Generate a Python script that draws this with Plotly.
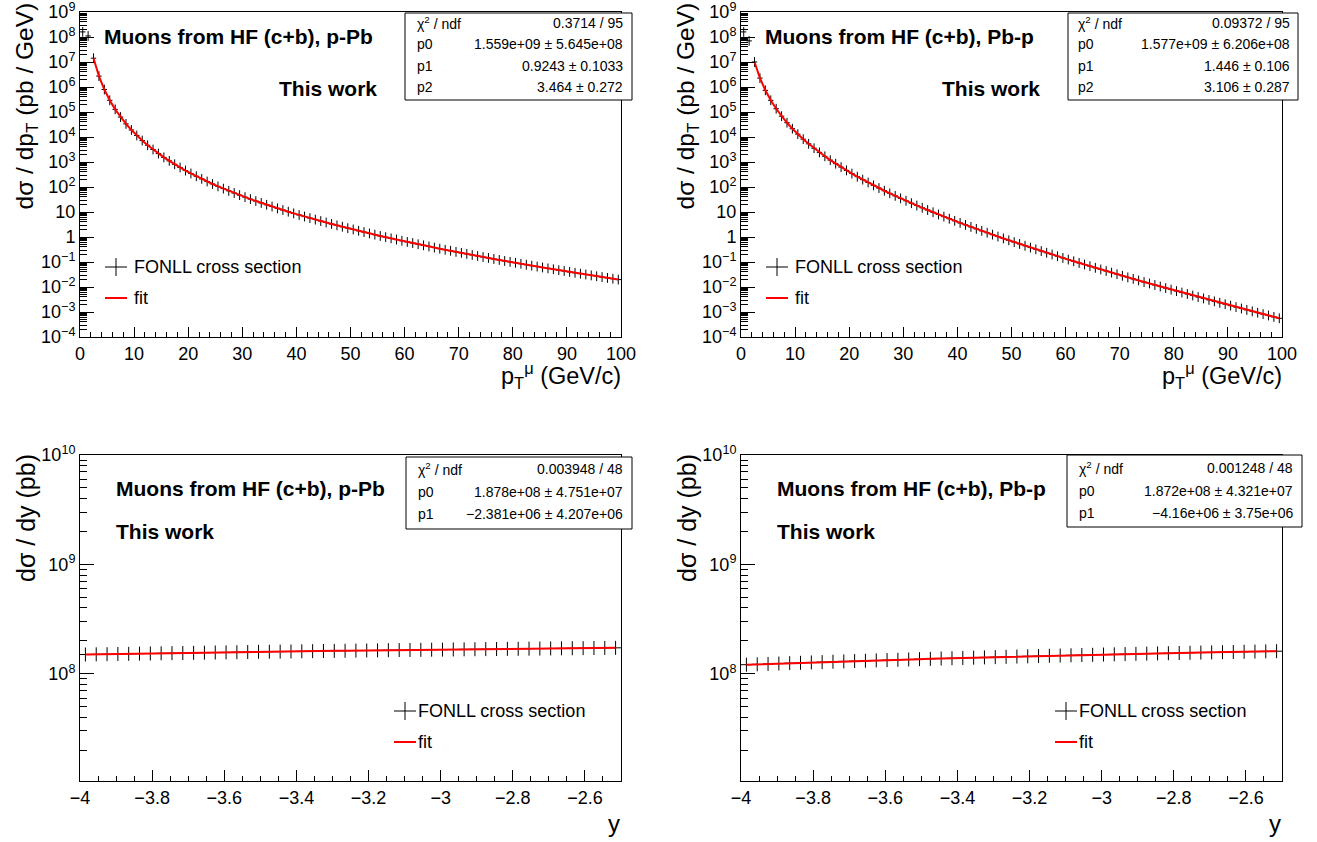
import plotly.graph_objects as go

# ---------------- data ----------------
# pT bins: width 1 GeV/c from 0 to 100 (bin centres 0.5 ... 99.5)
PT_BIN_LOW = 0.0
PT_BIN_WIDTH = 1.0
PT_FIT_FIRST_BIN = 2          # fit range starts at 2 GeV/c

# d sigma / d pT (pb/GeV), p-Pb, rows of 10 bins
XS_PT_PPB = [
    1.6e8, 1.1e8, 1.42e7, 2.73e6, 7.94e5, 2.94e5, 1.28e5, 6.27e4, 3.34e4, 1.91e4,
    1.15e4, 7.19e3, 4.69e3, 3.16e3, 2.17e3, 1.53e3, 1.11e3, 811, 604, 456,
    348, 270, 211, 166, 132, 106, 86.1, 70.1, 57.4, 47.3,
    39.2, 32.7, 27.4, 23.0, 19.4, 16.5, 14.0, 12.0, 10.3, 8.83,
    7.60, 6.59, 5.71, 4.97, 4.34, 3.79, 3.32, 2.92, 2.57, 2.26,
    2.00, 1.77, 1.57, 1.39, 1.24, 1.10, 0.986, 0.881, 0.789, 0.708,
    0.635, 0.571, 0.514, 0.463, 0.418, 0.378, 0.342, 0.309, 0.281, 0.254,
    0.231, 0.210, 0.191, 0.174, 0.158, 0.145, 0.132, 0.121, 0.110, 0.101,
    0.0927, 0.0849, 0.0778, 0.0714, 0.0656, 0.0604, 0.0556, 0.0512, 0.0471, 0.0435,
    0.0401, 0.0370, 0.0341, 0.0315, 0.0291, 0.0269, 0.0249, 0.0231, 0.0214, 0.0198,
]

# d sigma / d pT (pb/GeV), Pb-p
XS_PT_PBP = [
    1.6e8, 7.0e7, 1.00e7, 2.27e6, 7.35e5, 2.93e5, 1.35e5, 6.81e4, 3.72e4, 2.15e4,
    1.30e4, 8.20e3, 5.33e3, 3.55e3, 2.42e3, 1.69e3, 1.19e3, 857, 625, 461,
    344, 259, 197, 151, 116, 90.8, 70.8, 55.7, 44.2, 35.2,
    28.1, 22.5, 18.2, 14.7, 12.0, 9.73, 7.96, 6.53, 5.38, 4.44,
    3.66, 3.05, 2.53, 2.11, 1.76, 1.48, 1.24, 1.04, 0.875, 0.738,
    0.624, 0.527, 0.446, 0.378, 0.322, 0.274, 0.234, 0.199, 0.170, 0.146,
    0.125, 0.107, 0.0918, 0.0791, 0.0679, 0.0585, 0.0505, 0.0436, 0.0376, 0.0325,
    0.0281, 0.0243, 0.0211, 0.0183, 0.0158, 0.0138, 0.0120, 0.0104, 0.00904, 0.00787,
    0.00687, 0.00600, 0.00524, 0.00456, 0.00398, 0.00348, 0.00305, 0.00267, 0.00233, 0.00205,
    0.00179, 0.00157, 0.00138, 0.00121, 0.00106, 0.000935, 0.000820, 0.000723, 0.000635, 0.000560,
]

# rapidity bins: width 0.03 from -4 to -2.5
Y_BIN_LOW = -4.0
Y_BIN_WIDTH = 0.03

# d sigma / dy (pb), p-Pb
XS_Y_PPB = [
    150.0e6, 150.6e6, 151.1e6, 151.7e6, 152.2e6, 152.8e6, 153.3e6, 153.9e6, 154.4e6, 154.9e6,
    155.5e6, 156.0e6, 156.5e6, 157.0e6, 157.5e6, 158.1e6, 158.6e6, 159.1e6, 159.5e6, 160.0e6,
    160.5e6, 161.0e6, 161.5e6, 162.0e6, 162.4e6, 162.9e6, 163.3e6, 163.8e6, 164.3e6, 164.7e6,
    165.1e6, 165.6e6, 166.0e6, 166.4e6, 166.9e6, 167.3e6, 167.7e6, 168.1e6, 168.5e6, 168.9e6,
    169.3e6, 169.7e6, 170.1e6, 170.5e6, 170.9e6, 171.3e6, 171.6e6, 172.0e6, 172.4e6, 172.7e6,
]

# d sigma / dy (pb), Pb-p
XS_Y_PBP = [
    121.1e6, 122.1e6, 123.1e6, 124.1e6, 125.1e6, 126.0e6, 127.0e6, 127.9e6, 128.9e6, 129.8e6,
    130.7e6, 131.6e6, 132.5e6, 133.4e6, 134.3e6, 135.2e6, 136.1e6, 137.0e6, 137.8e6, 138.7e6,
    139.5e6, 140.4e6, 141.2e6, 142.0e6, 142.9e6, 143.7e6, 144.5e6, 145.3e6, 146.1e6, 146.8e6,
    147.6e6, 148.4e6, 149.1e6, 149.9e6, 150.6e6, 151.4e6, 152.1e6, 152.8e6, 153.5e6, 154.2e6,
    154.9e6, 155.6e6, 156.3e6, 157.0e6, 157.7e6, 158.3e6, 159.0e6, 159.6e6, 160.3e6, 160.9e6,
]

# fit statistics boxes
STATS_PT_PPB = [("χ<sup>2</sup> / ndf", "0.3714 / 95"),
                ("p0", "1.559e+09 ± 5.645e+08"),
                ("p1", "0.9243 ± 0.1033"),
                ("p2", "3.464 ± 0.272")]
STATS_PT_PBP = [("χ<sup>2</sup> / ndf", "0.09372 / 95"),
                ("p0", "1.577e+09 ± 6.206e+08"),
                ("p1", "1.446 ± 0.106"),
                ("p2", "3.106 ± 0.287")]
STATS_Y_PPB = [("χ<sup>2</sup> / ndf", "0.003948 / 48"),
               ("p0", "1.878e+08 ± 4.751e+07"),
               ("p1", "−2.381e+06 ± 4.207e+06")]
STATS_Y_PBP = [("χ<sup>2</sup> / ndf", "0.001248 / 48"),
               ("p0", "1.872e+08 ± 4.321e+07"),
               ("p1", "−4.16e+06 ± 3.75e+06")]

PT_TICKS = [0, 10, 20, 30, 40, 50, 60, 70, 80, 90, 100]
Y_TICKS = [-4.0, -3.8, -3.6, -3.4, -3.2, -3.0, -2.8, -2.6]
Y_TICK_TEXT = ["−4", "−3.8", "−3.6", "−3.4", "−3.2", "−3", "−2.8", "−2.6"]

# ---------------- layout helpers ----------------
W, H = 1317, 842
FONT = "Liberation Sans, Arial, Helvetica, sans-serif"


def px(x):
    return x / W


def py(y):
    return 1 - y / H


pt_centres = [PT_BIN_LOW + PT_BIN_WIDTH * (i + 0.5) for i in range(len(XS_PT_PPB))]
y_centres = [Y_BIN_LOW + Y_BIN_WIDTH * (i + 0.5) for i in range(len(XS_Y_PPB))]

fig = go.Figure()


def add_hist(xs, ys, half, xa, ya, tick, fit_from):
    fig.add_trace(go.Scatter(
        x=xs, y=ys, mode="markers", xaxis=xa, yaxis=ya, showlegend=False,
        marker=dict(symbol="line-ns", size=tick, color="black",
                    line=dict(color="black", width=1)),
        error_x=dict(type="data", array=[half] * len(xs), width=0,
                     thickness=1, color="black"),
        hoverinfo="skip"))
    fig.add_trace(go.Scatter(
        x=xs[fit_from:], y=ys[fit_from:], mode="lines", xaxis=xa, yaxis=ya,
        showlegend=False, line=dict(color="#ff0000", width=2), hoverinfo="skip"))


add_hist(pt_centres, XS_PT_PPB, PT_BIN_WIDTH / 2, "x", "y", 7, PT_FIT_FIRST_BIN)
add_hist(pt_centres, XS_PT_PBP, PT_BIN_WIDTH / 2, "x2", "y2", 7, PT_FIT_FIRST_BIN)
add_hist(y_centres, XS_Y_PPB, Y_BIN_WIDTH / 2, "x3", "y3", 10, 0)
add_hist(y_centres, XS_Y_PBP, Y_BIN_WIDTH / 2, "x4", "y4", 10, 0)

axis_common = dict(showline=True, linecolor="black", linewidth=1, mirror=True,
                   ticks="inside", tickcolor="black", tickwidth=1,
                   showgrid=False, zeroline=False, automargin=False,
                   ticklabeloverflow="allow",
                   tickfont=dict(family=FONT, size=18, color="black"))


def sup(e):
    if e == 0:
        return "1"
    if e == 1:
        return "10"
    s = str(e).replace("-", "−")
    return "10<sup>" + s + "</sup>"


top_dec = list(range(-4, 10))
top_yvals = [10.0 ** e for e in top_dec]
top_ytext = [sup(e) for e in top_dec]
top_yminor = [m * 10.0 ** e for e in range(-4, 9) for m in range(2, 10)]

bot_dec = [8, 9, 10]
bot_yvals = [10.0 ** e for e in bot_dec]
bot_ytext = [sup(e) for e in bot_dec]
bot_yminor = [m * 10.0 ** e for e in range(7, 10) for m in range(2, 10)]

pt_minor = [v for v in range(0, 101, 2) if v % 10]
y_minor = [round(-4 + 0.05 * i, 2) for i in range(31)]

xt = dict(axis_common, range=[0, 100], tickmode="array", tickvals=PT_TICKS,
          ticklen=10, minor=dict(tickmode="array", tickvals=pt_minor,
                                 ticks="inside", ticklen=5, tickcolor="black"))
xb = dict(axis_common, range=[-4, -2.5], tickmode="array", tickvals=Y_TICKS,
          ticktext=Y_TICK_TEXT, ticklen=11,
          minor=dict(tickmode="array", tickvals=y_minor, ticks="inside",
                     ticklen=5, tickcolor="black"))
yt = dict(axis_common, type="log", range=[-4, 9], tickmode="array",
          tickvals=top_yvals, ticktext=top_ytext, ticklen=14,
          minor=dict(tickmode="array", tickvals=top_yminor, ticks="inside",
                     ticklen=7, tickcolor="black"))
yb = dict(axis_common, type="log", range=[7.02, 10], tickmode="array",
          tickvals=bot_yvals, ticktext=bot_ytext, ticklen=14,
          minor=dict(tickmode="array", tickvals=bot_yminor, ticks="inside",
                     ticklen=7, tickcolor="black"))

LX = [px(80), px(621)]
RX = [px(741), px(1282)]
TY = [py(337), py(12)]
BY = [py(781), py(455)]

fig.update_layout(
    width=W, height=H,
    margin=dict(l=0, r=0, t=0, b=0, pad=0, autoexpand=False),
    paper_bgcolor="white", plot_bgcolor="white", showlegend=False,
    font=dict(family=FONT, color="black"),
    xaxis=dict(xt, domain=LX, anchor="y"),
    yaxis=dict(yt, domain=TY, anchor="x"),
    xaxis2=dict(xt, domain=RX, anchor="y2"),
    yaxis2=dict(yt, domain=TY, anchor="x2"),
    xaxis3=dict(xb, domain=LX, anchor="y3"),
    yaxis3=dict(yb, domain=BY, anchor="x3"),
    xaxis4=dict(xb, domain=RX, anchor="y4"),
    yaxis4=dict(yb, domain=BY, anchor="x4"),
)

shapes = []
annos = []


def text(x, y, s, size, xanchor="left", bold=False, angle=0, yanchor="middle"):
    if bold:
        s = "<b>" + s + "</b>"
    annos.append(dict(x=px(x), y=py(y), xref="paper", yref="paper", text=s,
                      showarrow=False, xanchor=xanchor, yanchor=yanchor,
                      textangle=angle, borderpad=0,
                      font=dict(family=FONT, size=size, color="black")))


def line(x0, y0, x1, y1, color="black", width=1):
    shapes.append(dict(type="line", xref="paper", yref="paper",
                       x0=px(x0), y0=py(y0), x1=px(x1), y1=py(y1),
                       line=dict(color=color, width=width)))


def stat_box(x0, y0, x1, y1, rows, row_y, pad_l=11, pad_r=8):
    shapes.append(dict(type="rect", xref="paper", yref="paper",
                       x0=px(x0), y0=py(y1), x1=px(x1), y1=py(y0),
                       line=dict(color="black", width=1), fillcolor="white"))
    for (lab, val), yy in zip(rows, row_y):
        text(x0 + pad_l, yy, lab, 14)
        text(x1 - pad_r, yy, val, 14, xanchor="right")


def legend(cx, y1, y2, tx):
    line(cx - 11, y1, cx + 11, y1)
    line(cx, y1 - 9, cx, y1 + 9)
    text(tx, y1, "FONLL cross section", 18)
    line(cx - 11, y2, cx + 11, y2, color="#ff0000", width=2)
    text(tx, y2, "fit", 18)


# stat boxes
stat_box(405, 13, 632, 100, STATS_PT_PPB, [23, 44, 66, 87])
stat_box(1068, 13, 1298, 100, STATS_PT_PBP, [23, 44, 66, 87], pad_l=9, pad_r=7)
stat_box(406, 457, 632, 529, STATS_Y_PPB, [469, 492, 514])
stat_box(1067, 455, 1302, 527, STATS_Y_PBP, [468, 491, 513])

# labels in frames
TXT = 21
text(103, 36, "Muons from HF (c+b), p-Pb", TXT, bold=True)
text(378, 88, "This work", TXT, xanchor="right", bold=True)
text(764, 36, "Muons from HF (c+b), Pb-p", TXT, bold=True)
text(1041, 88, "This work", TXT, xanchor="right", bold=True)
text(115, 488, "Muons from HF (c+b), p-Pb", TXT, bold=True)
text(115, 531, "This work", TXT, bold=True)
text(776, 488, "Muons from HF (c+b), Pb-p", TXT, bold=True)
text(776, 531, "This work", TXT, bold=True)

# legends
legend(116, 267, 298, 133)
legend(777, 267, 298, 794)
legend(405, 711, 742, 417)
legend(1066, 711, 742, 1078)

# axis titles
text(26, 2, "dσ / dp<sub>T</sub> (pb / GeV)", 24.5, xanchor="center",
     yanchor="top", angle=-90)
text(687, 2, "dσ / dp<sub>T</sub> (pb / GeV)", 24.5, xanchor="center",
     yanchor="top", angle=-90)
text(26, 453, "dσ / dy (pb)", 25, xanchor="center", yanchor="top", angle=-90)
text(687, 453, "dσ / dy (pb)", 25, xanchor="center", yanchor="top", angle=-90)
text(622, 375, "p<sub>T</sub><sup>μ</sup> (GeV/c)", 23.5, xanchor="right")
text(1283, 375, "p<sub>T</sub><sup>μ</sup> (GeV/c)", 23.5, xanchor="right")
text(621, 823, "y", 24, xanchor="right")
text(1282, 823, "y", 24, xanchor="right")

fig.update_layout(shapes=shapes, annotations=annos)
fig.write_html(
    "out.html",
    config={"displayModeBar": False, "staticPlot": True},
    post_script="document.body.style.margin='0px';"
                "document.body.style.padding='0px';"
                "document.body.style.overflow='hidden';",
)
